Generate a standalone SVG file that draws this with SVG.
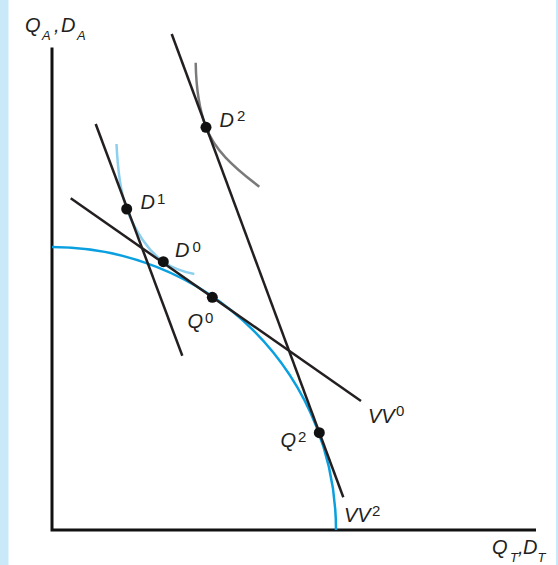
<svg xmlns="http://www.w3.org/2000/svg" width="558" height="565" viewBox="0 0 558 565">
<style>
.lbl{font-family:"Liberation Sans",Arial,sans-serif;font-style:italic;font-size:20px;fill:#231f20}
.sup{font-family:"Liberation Sans",Arial,sans-serif;font-style:normal;font-size:15px;fill:#231f20}
.sub{font-family:"Liberation Sans",Arial,sans-serif;font-style:italic;font-size:13px;fill:#231f20}
.ln{fill:none;stroke:#231f20;stroke-width:2.5}
.dot{fill:#111}
</style>
<rect x="0" y="0" width="558" height="565" fill="#ffffff"/>
<rect x="0" y="0" width="8.5" height="565" fill="#c9e9f8"/>
<rect x="556" y="0" width="2" height="565" fill="#c9e9f8"/>
<g id="axes">
<path d="M52,47.5 V530 H536" fill="none" stroke="#111" stroke-width="3"/>
<text class="lbl" x="25" y="32">Q</text><text class="sub" x="42" y="40">A</text><text class="lbl" x="54" y="32">,</text><text class="lbl" x="61" y="32">D</text><text class="sub" x="77" y="40">A</text>
<text class="lbl" x="492" y="554">Q</text><text class="sub" x="510" y="562">T</text><text class="lbl" x="518" y="554">,</text><text class="lbl" x="523" y="554">D</text><text class="sub" x="537.5" y="562">T</text>
</g>
<g id="ppf">
<path d="M52,247 A284,283 0 0 1 336,530" fill="none" stroke="#0aa0e0" stroke-width="2.5"/>
</g>
<g id="indifference-curves">
<path d="M116.5,144 C117.5,165 119.2,189 126.7,209 C135.2,231.7 149.3,251.9 163.3,261.7 C173.3,268.7 184.3,272 194.3,274" fill="none" stroke="#8ccfee" stroke-width="2.5"/>
<path d="M195.7,62.7 C196,85 198,105.7 206,127.3 C214,148.9 232,166 259.3,186.7" fill="none" stroke="#7a7a7a" stroke-width="2.5"/>
</g>
<g id="connectors">
<line class="ln" x1="70.7" y1="198.3" x2="361" y2="401"/>
<line class="ln" x1="95.7" y1="124" x2="182.3" y2="355.7"/>
<line class="ln" x1="171.7" y1="34" x2="343.3" y2="497.3"/>
</g>
<g id="D2"><circle class="dot" cx="206" cy="127.3" r="5.5"/><text class="lbl" x="219.5" y="126.5">D</text><text class="sup" x="237" y="121">2</text></g>
<g id="D1"><circle class="dot" cx="126.7" cy="209" r="5.5"/><text class="lbl" x="140.5" y="208.5">D</text><text class="sup" x="157" y="203.5">1</text></g>
<g id="D0"><circle class="dot" cx="163.3" cy="261.7" r="5.5"/><text class="lbl" x="175" y="257">D</text><text class="sup" x="192.5" y="252">0</text></g>
<g id="Q0"><circle class="dot" cx="212.3" cy="297.3" r="5.5"/><text class="lbl" x="187.5" y="327.5">Q</text><text class="sup" x="205" y="322.5">0</text></g>
<g id="Q2"><circle class="dot" cx="319.3" cy="432.7" r="5.5"/><text class="lbl" x="280.5" y="446.5">Q</text><text class="sup" x="298" y="441.5">2</text></g>
<g id="VV0"><text class="lbl" x="368" y="422.5">VV</text><text class="sup" x="396" y="416">0</text></g>
<g id="VV2"><text class="lbl" x="344" y="521.5">VV</text><text class="sup" x="372" y="515.5">2</text></g>
</svg>
